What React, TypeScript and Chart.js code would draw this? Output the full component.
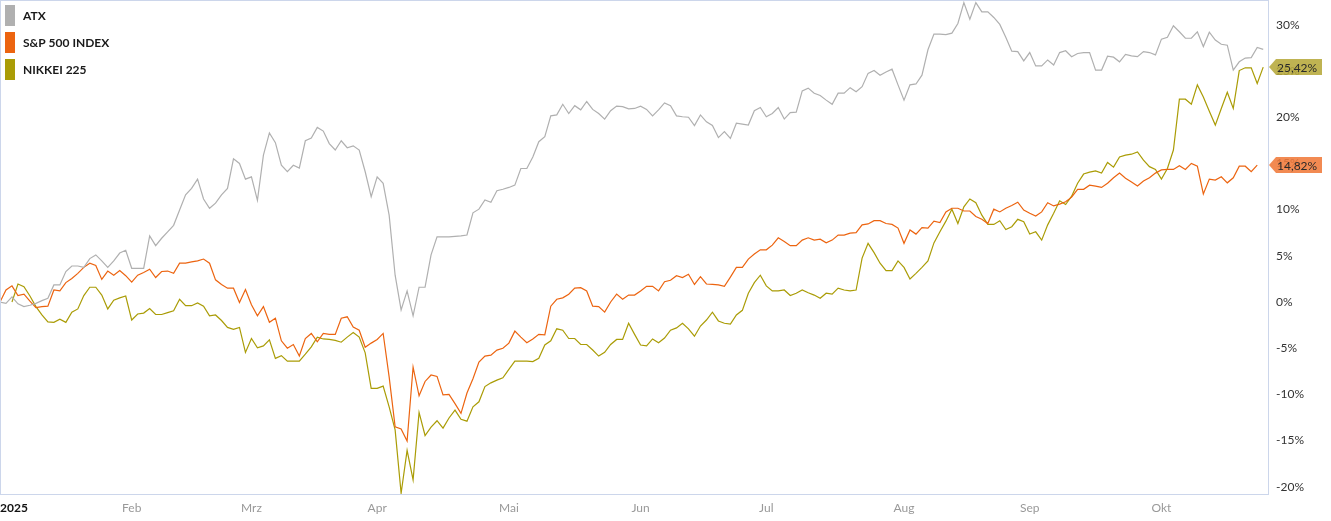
import React, { useEffect, useRef } from 'react';
import { Chart, registerables } from 'chart.js';

Chart.register(...registerables);

const seriesNames = ['ATX', 'S&P 500 INDEX', 'NIKKEI 225'];
const seriesColors = ['#b0b0b0', '#ec6410', '#aa9c06'];
const tagColors = ['', '#f07a3a', '#b6a83a'];

// one value per weekday, index 0 = 2 Jan 2025
const atx: (number | null)[] = [
  0.0, -0.15, 0.55, -0.2, -0.5, -0.35, -0.15, 0.15, 0.4, 1.85,
  1.85, 3.3, 3.9, 3.9, 3.75, 4.7, 5.1, 4.45, 3.75, 4.45,
  5.3, 5.6, 3.65, 3.65, 3.65, 7.15, 6.1, 6.9, 7.6, 8.3,
  9.95, 11.6, 12.3, 13.3, 11.15, 10.15, 10.7, 11.6, 12.3, 15.5,
  15.0, 13.3, 13.55, 11.0, 15.9, 18.3, 17.25, 14.8, 14.1, 14.8,
  14.5, 17.45, 17.75, 18.9, 18.5, 17.15, 16.45, 17.45, 16.7, 16.9,
  16.45, 14.1, 11.4, 13.55, 12.85, 9.4, 2.9, -0.85, 1.2, -1.5,
  1.6, 1.6, 5.1, 7.05, 7.05, 7.05, 7.1, 7.15, 7.25, 9.65,
  10.05, 11.05, 10.8, 12.05, 12.2, 12.4, 12.65, 14.45, 14.45, 15.7,
  17.35, 17.9, 20.15, 20.25, 21.4, 20.4, 21.25, 20.8, 21.7, 20.85,
  20.4, 19.8, 20.7, 21.2, 21.15, 20.9, 20.95, 21.2, 20.85, 20.15,
  20.8, 21.55, 21.25, 20.15, 20.05, 20.0, 19.1, 20.25, 19.5, 19.1,
  17.8, 18.45, 17.7, 19.35, 19.25, 19.15, 20.7, 21.05, 20.05, 20.4,
  21.05, 19.8, 20.5, 20.55, 22.85, 23.15, 22.6, 22.35, 21.85, 21.4,
  22.6, 22.6, 23.2, 22.75, 23.3, 24.75, 25.05, 24.55, 24.9, 25.2,
  23.5, 21.85, 23.5, 23.6, 24.55, 27.3, 29.0, 29.0, 28.95, 29.1,
  30.15, 32.4, 30.6, 32.4, 31.4, 31.4, 30.8, 30.05, 28.65, 27.15,
  27.1, 26.1, 27.0, 25.55, 25.55, 26.2, 25.65, 27.0, 27.2, 26.55,
  26.9, 27.0, 27.0, 25.1, 25.1, 26.6, 26.5, 26.0, 26.8, 26.65,
  26.55, 27.1, 27.0, 26.75, 28.45, 28.65, 29.9, 29.25, 28.55, 28.55,
  29.25, 27.65, 29.2, 28.35, 27.9, 27.8, 25.1, 26.0, 26.4, 26.45,
  27.55, 27.35,
];

const sp500: (number | null)[] = [
  0.0, 1.3, 1.75, 0.7, 0.85, 0.1, -0.6, -0.5, -0.45, 1.3,
  1.2, 2.1, 2.55, 3.1, 3.75, 4.2, 3.95, 2.45, 3.35, 2.9,
  3.4, 2.85, 2.15, 2.9, 3.2, 3.55, 2.65, 3.3, 3.35, 3.1,
  4.2, 4.2, 4.35, 4.45, 4.65, 4.2, 2.4, 1.9, 1.5, 1.5,
  -0.05, 1.35, -0.3, -1.5, -0.5, -2.2, -1.75, -4.2, -5.0, -4.6,
  -5.85, -3.95, -3.4, -4.3, -3.4, -3.5, -3.5, -1.75, -1.6, -2.7,
  -3.05, -4.9, -4.45, -4.05, -3.4, -8.1, -13.5, -13.75, -15.05, -7.05,
  -10.15, -8.6, -7.9, -8.05, -10.05, -10.0, -11.0, -12.05, -9.85, -8.3,
  -6.5, -5.85, -5.75, -5.2, -5.0, -4.45, -3.15, -3.8, -4.4, -4.0,
  -3.5, -3.55, -0.45, 0.3, 0.45, 0.85, 1.5, 1.55, 1.2, -0.45,
  -0.5, -1.1, 0.0, 0.85, 0.3, 0.75, 0.75, 1.2, 1.7, 1.7,
  1.2, 2.2, 2.35, 2.85, 2.65, 3.0, 1.9, 2.75, 1.95, 1.9,
  1.85, 1.7, 2.7, 3.75, 3.75, 4.65, 5.2, 5.65, 5.65, 6.15,
  6.95, 6.55, 6.1, 6.1, 6.7, 6.95, 6.7, 6.8, 6.4, 6.7,
  7.25, 7.25, 7.45, 7.5, 8.35, 8.45, 8.8, 8.8, 8.5, 8.4,
  8.0, 6.35, 7.8, 7.35, 8.05, 8.0, 8.75, 8.6, 9.75, 10.15,
  10.15, 9.85, 9.85, 9.25, 8.95, 8.5, 10.05, 9.75, 10.15, 10.45,
  10.8, 9.95, 9.6, 9.3, 9.75, 10.75, 10.4, 10.6, 10.85, 11.35,
  12.2, 12.2, 12.65, 12.55, 12.4, 12.85, 13.45, 13.95, 13.4, 13.0,
  12.55, 13.1, 13.45, 13.95, 14.3, 14.35, 14.35, 14.75, 14.35, 15.0,
  14.7, 11.7, 13.3, 13.2, 13.55, 12.9, 13.45, 14.7, 14.7, 14.1,
  14.82, null,
];

const nikkei: (number | null)[] = [
  null, null, 0.0, 1.95, 1.65, 0.65, -0.5, -1.4, -2.15, -2.2,
  -1.85, -2.2, -1.1, -0.75, 0.7, 1.6, 1.6, 0.75, -0.75, 0.2,
  0.45, 0.65, -1.95, -1.3, -1.2, -0.7, -1.35, -1.35, -1.15, -0.95,
  0.3, -0.4, -0.4, -0.1, -0.45, -1.5, -1.4, -2.0, -2.75, -2.95,
  -2.75, -5.45, -3.95, -4.95, -4.75, -4.1, -6.1, -5.8, -6.4, -6.4,
  -6.4, -5.65, -4.85, -3.8, -4.0, -4.05, -4.15, -4.35, -3.8, -3.3,
  -3.8, -5.5, -9.35, -9.35, -9.1, -11.35, -13.85, -20.7, -16.05, -19.25,
  -11.95, -14.45, -13.55, -12.85, -13.65, -12.55, -11.7, -12.7, -12.9, -11.35,
  -10.8, -9.15, -8.75, -8.45, -8.2, -7.3, -6.4, -6.4, -6.4, -6.45,
  -6.1, -4.65, -4.2, -2.9, -3.05, -3.95, -3.95, -4.6, -4.6, -5.2,
  -5.85, -5.45, -4.6, -4.05, -4.05, -2.3, -3.5, -4.65, -4.75, -4.0,
  -4.4, -3.9, -3.05, -2.8, -2.3, -2.9, -3.7, -2.6, -1.95, -1.1,
  -2.05, -2.3, -2.4, -1.4, -0.9, 0.95, 2.1, 2.9, 1.75, 1.2,
  1.2, 1.3, 0.7, 0.95, 1.3, 1.0, 0.75, 0.4, 0.95, 0.85,
  1.5, 1.3, 1.2, 1.3, 4.75, 6.35, 5.35, 4.2, 3.4, 3.4,
  4.45, 3.75, 2.5, 3.1, 3.75, 4.45, 6.4, 7.6, 8.75, 10.05,
  8.5, 10.3, 11.15, 10.75, 9.4, 8.4, 8.4, 8.8, 7.85, 8.15,
  8.95, 8.7, 7.35, 7.6, 6.7, 8.35, 9.6, 10.95, 10.55, 11.45,
  12.85, 13.85, 14.05, 14.2, 13.95, 15.1, 14.6, 15.7, 15.9, 16.0,
  16.25, 15.35, 14.65, 14.35, 13.3, 14.45, 16.45, 21.95, 21.95, 21.4,
  23.5, 22.2, 20.65, 19.15, 20.95, 22.7, 20.95, 25.05, 25.35, 25.35,
  23.65, 25.42,
];

const monthTickIndex = [0, 22, 42, 63, 85, 107, 128, 151, 172, 194, 211.8];
const monthTickLabels = ['2025', 'Feb', 'Mrz', 'Apr', 'Mai', 'Jun', 'Jul', 'Aug', 'Sep', 'Okt', ''];
const yTickValues = [-20, -15, -10, -5, 0, 5, 10, 15, 20, 25, 30];
const yMin = -20.78;
const yMax = 32.58;
const xMax = 211.8;

const FONT = 'Lato, "Open Sans", sans-serif';
const FRAME = '#ccd6eb';

const framePlugin = {
  id: 'frame',
  afterDraw(chart: any) {
    const { ctx, chartArea } = chart;
    ctx.save();
    ctx.strokeStyle = FRAME;
    ctx.lineWidth = 1;
    ctx.strokeRect(
      Math.round(chartArea.left) + 0.5,
      Math.round(chartArea.top) - 0.5,
      Math.round(chartArea.right - chartArea.left),
      Math.round(chartArea.bottom - chartArea.top) + 1
    );
    ctx.restore();
  },
};

const legendPlugin = {
  id: 'customLegend',
  afterDraw(chart: any) {
    const { ctx } = chart;
    ctx.save();
    chart.data.datasets.forEach((ds: any, i: number) => {
      const top = 5 + i * 27;
      ctx.fillStyle = seriesColors[i];
      ctx.fillRect(5, top, 10, 21);
      ctx.fillStyle = '#1a1a1a';
      ctx.font = `bold 12px ${FONT}`;
      ctx.textAlign = 'left';
      ctx.textBaseline = 'middle';
      ctx.fillText(ds.label, 23, top + 11);
    });
    ctx.restore();
  },
};

const tagPlugin = {
  id: 'lastValueTags',
  afterDraw(chart: any) {
    const { ctx, chartArea } = chart;
    const yScale = chart.scales.y;
    ctx.save();
    chart.data.datasets.forEach((ds: any, i: number) => {
      if (!tagColors[i]) return;
      let last: any = null;
      for (let k = ds.data.length - 1; k >= 0; k--) {
        if (ds.data[k].y !== null) { last = ds.data[k]; break; }
      }
      if (!last) return;
      const y = Math.round(yScale.getPixelForValue(last.y));
      const x0 = chartArea.right + 1;
      ctx.globalAlpha = 0.88;
      ctx.fillStyle = tagColors[i];
      ctx.beginPath();
      ctx.moveTo(x0, y);
      ctx.lineTo(x0 + 7, y - 8);
      ctx.lineTo(x0 + 53, y - 8);
      ctx.lineTo(x0 + 53, y + 8);
      ctx.lineTo(x0 + 7, y + 8);
      ctx.closePath();
      ctx.fill();
      ctx.globalAlpha = 1;
      ctx.fillStyle = '#2a2a2a';
      ctx.font = `12px ${FONT}`;
      ctx.textAlign = 'left';
      ctx.textBaseline = 'middle';
      ctx.fillText(last.y.toFixed(2).replace('.', ',') + '%', x0 + 8, y + 1);
    });
    ctx.restore();
  },
};

const zeroPad = (s: any) => {
  s.paddingLeft = 0;
  s.paddingRight = 0;
  s.paddingTop = 0;
  s.paddingBottom = 0;
};

const toPoints = (arr: (number | null)[]) => arr.map((v, i) => ({ x: i, y: v }));

export default function App() {
  const canvasRef = useRef<HTMLCanvasElement | null>(null);

  useEffect(() => {
    if (!canvasRef.current) return;
    const seriesData = [atx, sp500, nikkei];
    const chart = new Chart(canvasRef.current, {
      type: 'line',
      data: {
        datasets: seriesData.map((arr, i) => ({
          label: seriesNames[i],
          data: toPoints(arr) as any,
          borderColor: seriesColors[i],
          backgroundColor: seriesColors[i],
          borderWidth: 1.2,
          pointRadius: 0,
          pointHoverRadius: 0,
          tension: 0,
          fill: false,
          spanGaps: false,
        })),
      },
      options: {
        animation: false,
        responsive: false,
        layout: { padding: { top: 1, left: 0, right: 0, bottom: 0 } },
        plugins: { legend: { display: false }, tooltip: { enabled: false } },
        scales: {
          x: {
            type: 'linear',
            min: 0,
            max: xMax,
            grid: { display: false, drawTicks: false },
            border: { display: false },
            afterBuildTicks: (s: any) => {
              s.ticks = monthTickIndex.map((v) => ({ value: v }));
            },
            afterFit: (s: any) => {
              s.height = 27;
              zeroPad(s);
            },
            ticks: {
              autoSkip: false,
              maxRotation: 0,
              minRotation: 0,
              align: 'inner',
              padding: 7,
              callback: (_v: any, idx: number) => monthTickLabels[idx],
              color: (c: any) => (c.index === 0 ? '#111111' : '#999999'),
              font: (c: any) => ({ family: FONT, size: 12, weight: c.index === 0 ? 'bold' : 'normal' }),
            },
          },
          y: {
            type: 'linear',
            position: 'right',
            min: yMin,
            max: yMax,
            grid: { display: false, drawTicks: false },
            border: { display: false },
            afterBuildTicks: (s: any) => {
              s.ticks = yTickValues.map((v) => ({ value: v }));
            },
            afterFit: (s: any) => {
              s.width = 63;
              zeroPad(s);
            },
            ticks: {
              padding: 8,
              color: '#333333',
              font: { family: FONT, size: 12 },
              callback: (v: any) => `${v}%`,
            },
          },
        },
      } as any,
      plugins: [framePlugin, legendPlugin, tagPlugin],
    });
    return () => chart.destroy();
  }, []);

  return (
    <div style={{ position: 'fixed', left: 0, top: 0, width: 1331, height: 521, background: '#ffffff' }}>
      <canvas ref={canvasRef} width={1331} height={521} style={{ display: 'block' }} />
    </div>
  );
}
